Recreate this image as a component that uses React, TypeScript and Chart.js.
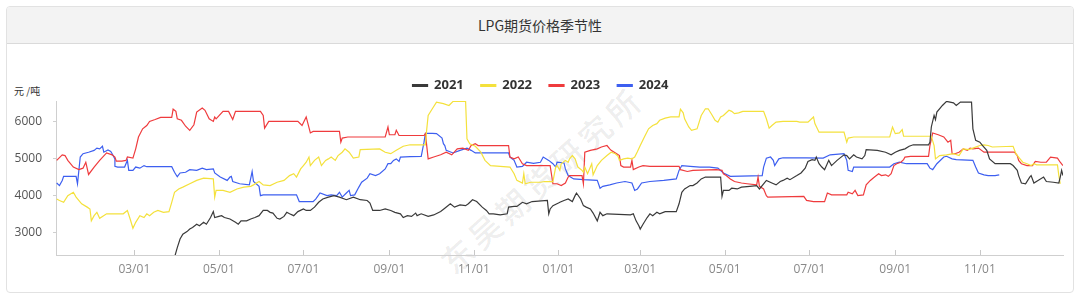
import React, { useEffect, useRef } from "react";
import { Chart, registerables } from "chart.js";

Chart.register(...registerables);

// x = day index counted from 01/01 of the first season year, y = 元/吨
const seriesNames = ["2021", "2022", "2023", "2024"];
const seriesColors = ["#3a3a3a", "#f4e13c", "#ef3b3d", "#3d5ff0"];

const tickDays = [59, 120, 181, 243, 304, 365, 424, 485, 546, 608, 669];
const tickLabels = ["03/01", "05/01", "07/01", "09/01", "11/01", "01/01", "03/01", "05/01", "07/01", "09/01", "11/01"];
const yTicks = [3000, 4000, 5000, 6000];

const pts2021: number[][] = [
  [87, 2200], [90, 2600], [92, 2830], [94, 2960], [97, 3030], [99, 3100], [101, 3140], [104, 3230], [106, 3190], [109, 3280],
  [111, 3230], [114, 3410], [116, 3570], [117, 3410], [120, 3440], [122, 3460], [124, 3410], [128, 3370], [132, 3280], [134, 3230],
  [136, 3320], [140, 3320], [143, 3370], [146, 3410], [149, 3460], [152, 3600], [155, 3600], [157, 3550], [159, 3530], [162, 3390],
  [164, 3370], [167, 3440], [169, 3550], [171, 3510], [174, 3460], [177, 3570], [181, 3640], [183, 3600], [186, 3600], [189, 3690],
  [192, 3820], [195, 3910], [199, 3960], [203, 4000], [207, 3960], [212, 3890], [217, 3960], [222, 3890], [227, 3870], [229, 3800],
  [231, 3600], [236, 3600], [240, 3640], [244, 3600], [247, 3550], [251, 3510], [253, 3410], [256, 3460], [259, 3440], [262, 3530],
  [263, 3460], [266, 3510], [271, 3440], [275, 3480], [280, 3570], [283, 3660], [287, 3780], [290, 3690], [294, 3750], [298, 3730],
  [300, 3780], [303, 3890], [306, 3840], [310, 3690], [313, 3600], [315, 3510], [318, 3510], [323, 3480], [328, 3510], [329, 3690],
  [333, 3710], [335, 3710], [339, 3820], [342, 3780], [346, 3840], [357, 3870], [358, 3510], [359, 3640], [361, 3730], [365, 3800],
  [366, 3820], [369, 3870], [372, 3910], [375, 3840], [377, 4000], [378, 4070], [381, 3910], [383, 3730], [385, 3690], [388, 3640],
  [390, 3530], [393, 3320], [395, 3550], [397, 3460], [400, 3510], [417, 3480], [419, 3510], [421, 3320], [423, 3190], [424, 3100],
  [426, 3230], [429, 3410], [431, 3510], [433, 3460], [436, 3550], [438, 3510], [442, 3570], [450, 3570], [452, 3780], [454, 4090],
  [456, 4180], [460, 4270], [462, 4270], [465, 4340], [468, 4450], [471, 4500], [482, 4500], [483, 3980], [484, 4140], [488, 4140],
  [490, 4200], [494, 4180], [497, 4230], [503, 4250], [508, 4270], [510, 4180], [513, 4320], [515, 4410], [519, 4340], [522, 4290],
  [525, 4380], [527, 4410], [530, 4470], [532, 4430], [537, 4540], [540, 4610], [543, 4740], [545, 4920], [548, 4970], [550, 4950],
  [551, 5040], [553, 4860], [555, 4770], [557, 4700], [560, 4950], [562, 4810], [566, 4950], [568, 5010], [571, 5100], [573, 5080],
  [575, 4990], [578, 5100], [580, 5040], [584, 4990], [586, 5080], [587, 5240], [595, 5220], [601, 5170], [605, 5100], [608, 5170],
  [611, 5220], [615, 5260], [618, 5330], [621, 5370], [632, 5370], [633, 5440], [634, 5850], [636, 6160], [637, 6050], [638, 6250],
  [642, 6430], [645, 6540], [650, 6500], [652, 6430], [655, 6520], [663, 6520], [664, 5800], [666, 5490], [669, 5440], [671, 5350],
  [674, 5220], [676, 4990], [680, 4860], [691, 4860], [693, 4810], [696, 4680], [697, 4540], [699, 4340], [702, 4320], [705, 4500],
  [706, 4540], [708, 4340], [711, 4410], [715, 4500], [717, 4380], [722, 4360], [726, 4340], [727, 4500], [728, 4680], [729, 4540],
];

const pts2022: number[][] = [
  [3, 3910], [5, 3870], [8, 3820], [11, 4000], [15, 4090], [17, 3960], [21, 3780], [25, 3690], [27, 3640], [28, 3320],
  [30, 3460], [32, 3550], [34, 3390], [39, 3510], [51, 3510], [54, 3600], [56, 3370], [58, 3120], [60, 3280], [63, 3460],
  [66, 3410], [68, 3510], [70, 3460], [73, 3550], [76, 3600], [80, 3550], [84, 3570], [86, 3820], [88, 4090], [91, 4180],
  [94, 4230], [99, 4320], [104, 4410], [109, 4470], [116, 4450], [117, 3960], [118, 4140], [123, 4140], [128, 4090], [133, 4180],
  [138, 4230], [143, 4250], [145, 4290], [149, 4380], [152, 4290], [157, 4270], [162, 4360], [167, 4410], [171, 4540], [174, 4590],
  [176, 4500], [179, 4720], [181, 4810], [183, 4900], [185, 5040], [186, 4810], [189, 4950], [192, 5040], [194, 4810], [197, 4950],
  [199, 4990], [201, 5040], [204, 4950], [206, 5080], [209, 5170], [211, 5260], [214, 5170], [217, 5010], [221, 5040], [222, 5240],
  [236, 5260], [240, 5170], [244, 5130], [248, 5220], [253, 5330], [258, 5370], [269, 5370], [270, 5800], [271, 6160], [274, 6340],
  [277, 6520], [282, 6480], [286, 6430], [289, 6540], [298, 6540], [299, 5530], [301, 5400], [305, 5330], [309, 5170], [312, 4950],
  [316, 4810], [323, 4790], [330, 4770], [333, 4590], [335, 4410], [339, 4340], [340, 4590], [341, 4320], [345, 4360], [352, 4360],
  [355, 4380], [361, 4380], [363, 4770], [364, 4810], [366, 4680], [367, 4860], [370, 4950], [372, 4900], [373, 4990], [375, 5080],
  [377, 4990], [379, 4770], [382, 4680], [383, 4630], [384, 4770], [386, 4590], [389, 4860], [390, 4560], [393, 4810], [396, 4950],
  [400, 5080], [403, 5170], [406, 5130], [408, 5060], [409, 4950], [412, 4990], [415, 5010], [418, 4990], [420, 5040], [422, 5190],
  [424, 5350], [427, 5580], [430, 5800], [433, 5890], [436, 5940], [438, 6030], [442, 6090], [446, 6120], [452, 6120], [453, 6330],
  [455, 6230], [456, 6070], [459, 5850], [461, 5760], [465, 5800], [468, 6160], [471, 6340], [473, 6340], [476, 6160], [478, 6030],
  [480, 5980], [482, 6120], [484, 6160], [488, 6300], [490, 6270], [492, 6210], [495, 6230], [498, 6270], [513, 6270], [515, 6070],
  [517, 5820], [519, 5890], [522, 5980], [527, 6000], [537, 6000], [539, 5980], [545, 5980], [549, 6120], [550, 5940], [553, 5710],
  [571, 5710], [573, 5440], [574, 5550], [578, 5580], [604, 5580], [606, 5850], [608, 5670], [611, 5690], [613, 5780], [614, 5600],
  [634, 5600], [636, 5350], [637, 4990], [640, 5080], [645, 5100], [650, 5130], [654, 5080], [657, 5260], [661, 5240], [664, 5280],
  [669, 5350], [672, 5370], [675, 5350], [678, 5310], [693, 5330], [695, 5130], [698, 4990], [700, 4900], [703, 4860], [706, 4810],
  [708, 4860], [710, 4830], [725, 4830], [726, 4540], [727, 4320],
];

const pts2023: number[][] = [
  [3, 4950], [7, 5100], [9, 5080], [11, 4950], [15, 4770], [19, 4700], [22, 4740], [24, 4900], [26, 4570], [30, 4770],
  [34, 4950], [39, 5150], [43, 5100], [45, 5040], [46, 4930], [50, 4930], [53, 4950], [54, 5040], [58, 5010], [60, 5260],
  [62, 5580], [65, 5800], [68, 5890], [70, 6000], [74, 6050], [78, 6110], [86, 6110], [87, 6330], [89, 6270], [90, 6070],
  [93, 6030], [96, 5870], [99, 5760], [102, 5910], [104, 6250], [108, 6360], [110, 6300], [113, 6070], [116, 6000], [117, 6120],
  [118, 6070], [123, 6270], [127, 6270], [130, 6050], [132, 6270], [150, 6270], [152, 6160], [153, 5820], [156, 6000], [177, 6000],
  [180, 5890], [183, 6120], [186, 5690], [188, 5730], [207, 5730], [208, 5440], [209, 5550], [213, 5580], [240, 5580], [242, 5850],
  [243, 5640], [247, 5640], [248, 5760], [250, 5620], [268, 5620], [269, 5670], [271, 4990], [275, 5040], [280, 5100], [284, 5170],
  [288, 5100], [292, 5260], [296, 5280], [300, 5220], [302, 5350], [305, 5400], [307, 5350], [329, 5350], [330, 5040], [333, 4990],
  [336, 5040], [339, 4860], [342, 4810], [359, 4810], [361, 4320], [364, 4320], [367, 4270], [370, 4340], [372, 4500], [373, 4540],
  [382, 4540], [383, 4320], [384, 5170], [388, 5220], [393, 5260], [396, 5310], [400, 5350], [402, 5260], [403, 5220], [407, 5130],
  [409, 5080], [410, 4810], [412, 4770], [417, 4770], [418, 4950], [419, 4700], [423, 4770], [426, 4810], [431, 4790], [452, 4790],
  [453, 4700], [458, 4650], [462, 4680], [479, 4700], [483, 4680], [484, 4590], [486, 4540], [489, 4450], [492, 4380], [497, 4340],
  [501, 4320], [508, 4290], [509, 4500], [510, 4250], [513, 4180], [515, 4000], [516, 3960], [542, 3980], [544, 3870], [549, 3840],
  [557, 3840], [559, 4070], [562, 4020], [573, 4020], [574, 4090], [577, 4050], [579, 4140], [581, 4000], [585, 4020], [587, 4290],
  [590, 4410], [593, 4500], [596, 4590], [598, 4540], [601, 4560], [603, 4520], [605, 4590], [607, 4810], [609, 4860], [612, 4900],
  [614, 4970], [615, 5040], [619, 5060], [632, 5060], [633, 5350], [635, 5690], [639, 5640], [643, 5580], [646, 5440], [648, 5490],
  [649, 5130], [651, 5130], [654, 5170], [657, 5260], [660, 5220], [662, 5280], [664, 5260], [668, 5280], [672, 5170], [694, 5170],
  [696, 5080], [697, 4950], [699, 4860], [703, 4810], [707, 4810], [709, 4920], [713, 4900], [717, 4900], [720, 5040], [725, 5010],
  [727, 4900], [729, 4810],
];

const pts2024: number[][] = [
  [3, 4340], [5, 4270], [7, 4410], [8, 4520], [17, 4520], [18, 4320], [19, 4680], [20, 5040], [22, 5130], [26, 5170],
  [30, 5220], [32, 5280], [34, 5260], [36, 5330], [37, 5170], [40, 5230], [42, 5190], [43, 5130], [45, 4990], [45, 4790],
  [47, 4770], [52, 4770], [54, 4950], [55, 4680], [58, 4680], [60, 4770], [63, 4740], [66, 4810], [68, 4780], [86, 4780],
  [88, 4630], [90, 4510], [92, 4610], [96, 4630], [99, 4700], [104, 4680], [108, 4740], [111, 4700], [116, 4720], [117, 4610],
  [121, 4500], [126, 4410], [128, 4500], [129, 4520], [130, 4380], [135, 4320], [142, 4290], [144, 4650], [145, 4380], [149, 4250],
  [150, 4000], [152, 4020], [176, 4020], [178, 3840], [188, 3840], [190, 3910], [193, 4070], [198, 4000], [201, 4020], [205, 4000],
  [207, 4090], [209, 3960], [212, 4070], [214, 4140], [215, 4000], [218, 4020], [221, 4230], [223, 4360], [227, 4470], [229, 4590],
  [233, 4540], [236, 4590], [240, 4720], [242, 4860], [244, 4860], [246, 4950], [248, 4990], [250, 4920], [251, 5040], [258, 5050],
  [266, 5060], [268, 5440], [269, 5680], [274, 5680], [277, 5670], [281, 5550], [282, 5400], [283, 5350], [284, 5220], [289, 5150],
  [294, 5220], [299, 5280], [302, 5220], [305, 5150], [329, 5150], [330, 5040], [333, 4950], [335, 4770], [339, 4790], [342, 4900],
  [347, 4870], [352, 4900], [354, 5040], [358, 4950], [361, 4860], [363, 4770], [364, 4900], [369, 4880], [370, 4720], [372, 4540],
  [376, 4450], [383, 4430], [393, 4410], [395, 4200], [397, 4250], [402, 4290], [407, 4340], [413, 4380], [418, 4340], [420, 4140],
  [422, 4180], [425, 4340], [431, 4380], [441, 4410], [450, 4450], [452, 4680], [454, 4810], [460, 4790], [467, 4770], [474, 4770],
  [480, 4740], [484, 4610], [489, 4520], [512, 4540], [513, 4770], [515, 5010], [518, 5040], [520, 4950], [521, 4810], [524, 4990],
  [527, 5020], [544, 5020], [556, 5010], [561, 5100], [571, 5130], [573, 4950], [574, 4680], [577, 4650], [578, 4770], [604, 4770],
  [607, 4860], [611, 4900], [616, 4860], [631, 4860], [633, 4740], [635, 4700], [638, 4860], [643, 5040], [645, 5060], [649, 4990],
  [652, 4970], [664, 4950], [666, 4770], [668, 4610], [672, 4560], [675, 4540], [680, 4540], [683, 4560],
];

const allSeries = [pts2021, pts2022, pts2023, pts2024];

const FONT = "'Open Sans', 'Noto Sans CJK SC', sans-serif";
const CJK = "'Noto Sans CJK SC', 'Open Sans', sans-serif";

export default function App() {
  const canvasRef = useRef<HTMLCanvasElement | null>(null);

  useEffect(() => {
    const canvas = canvasRef.current;
    if (!canvas) return;

    const legendFit = {
      id: "legendFit",
      beforeInit(chart: any) {
        const leg = chart.legend;
        if (leg) {
          const orig = leg.fit;
          leg.fit = function () {
            orig.call(this);
            this.height = 39;
          };
        }
      },
      afterLayout(chart: any) {
        // centre the legend row over the same span as the reference
        if (chart.legend) chart.legend.left = 18;
      },
    };

    const innerTicks = {
      id: "innerTicks",
      afterDraw(chart: any) {
        const xs = chart.scales.x;
        const { ctx, chartArea } = chart;
        ctx.save();
        ctx.strokeStyle = "#c8c8c8";
        ctx.lineWidth = 1;
        tickDays.forEach((d) => {
          const px = Math.round(xs.getPixelForValue(d)) + 0.5;
          ctx.beginPath();
          ctx.moveTo(px, chartArea.bottom);
          ctx.lineTo(px, chartArea.bottom - 5);
          ctx.stroke();
        });
        ctx.restore();
      },
    };

    const chart = new Chart(canvas, {
      type: "line",
      data: {
        datasets: allSeries.map((pts, i) => ({
          label: seriesNames[i],
          data: pts.map(([x, y]) => ({ x, y })),
          borderColor: seriesColors[i],
          backgroundColor: seriesColors[i],
          borderWidth: 1.2,
          pointRadius: 0,
          pointHoverRadius: 0,
          tension: 0,
          fill: false,
        })),
      },
      options: {
        animation: false,
        responsive: false,
        maintainAspectRatio: false,
        events: [],
        layout: { padding: { left: 0, right: 17, top: 18, bottom: 0 } },
        plugins: {
          legend: {
            display: true,
            position: "top",
            align: "center",
            labels: {
              boxWidth: 15,
              boxHeight: 2,
              padding: 17,
              color: "#333",
              font: { family: FONT, size: 13, weight: "bold" },
            },
          },
          tooltip: { enabled: false },
        },
        scales: {
          x: {
            type: "linear",
            min: 2.5,
            max: 729,
            afterBuildTicks: (s: any) => {
              s.ticks = tickDays.map((v) => ({ value: v }));
            },
            afterFit: (s: any) => {
              s.height = 39;
            },
            ticks: {
              autoSkip: false,
              maxRotation: 0,
              minRotation: 0,
              padding: 7,
              color: "#888",
              font: { family: FONT, size: 12 },
              callback: (v: any) => {
                const i = tickDays.indexOf(Number(v));
                return i >= 0 ? tickLabels[i] : "";
              },
            },
            grid: { display: true, drawOnChartArea: false, drawTicks: false },
            border: { display: true, color: "#cfcfcf", width: 1 },
          },
          y: {
            type: "linear",
            min: 2400,
            max: 6550,
            afterBuildTicks: (s: any) => {
              s.ticks = yTicks.map((v) => ({ value: v }));
            },
            afterFit: (s: any) => {
              s.width = 56;
            },
            ticks: {
              padding: 11,
              color: "#555",
              font: { family: FONT, size: 12 },
              callback: (v: any) => String(v),
            },
            grid: { display: true, drawOnChartArea: false, drawTicks: true, tickLength: 3, color: "#cfcfcf" },
            border: { display: true, color: "#cfcfcf", width: 1 },
          },
        },
      },
      plugins: [legendFit, innerTicks],
    } as any);

    return () => chart.destroy();
  }, []);

  return (
    <div style={{ position: "absolute", left: 0, top: 0, width: 1080, height: 300, background: "#fff", overflow: "hidden" }}>
      <div
        style={{
          position: "absolute",
          left: 6,
          top: 6,
          width: 1068,
          height: 287,
          boxSizing: "border-box",
          border: "1px solid #e2e2e2",
          borderRadius: 4,
          background: "#fff",
          overflow: "hidden",
        }}
      >
        <div
          style={{
            height: 37,
            boxSizing: "border-box",
            background: "#f3f3f3",
            borderBottom: "1px solid #dadada",
            textAlign: "center",
            lineHeight: "36px",
            fontSize: 14,
            color: "#333",
            fontFamily: CJK,
          }}
        >
          LPG期货价格季节性
        </div>
      </div>
      <div
        style={{
          position: "absolute",
          left: 541,
          top: 179,
          transform: "translate(-50%, -50%) rotate(-42deg)",
          fontSize: 32,
          letterSpacing: 5,
          color: "rgba(0,0,0,0.085)",
          fontFamily: CJK,
          fontWeight: 500,
          whiteSpace: "nowrap",
        }}
      >
        东吴期货研究所
      </div>
      <div
        style={{
          position: "absolute",
          left: 14,
          top: 85,
          fontSize: 10,
          lineHeight: "12px",
          color: "#333",
          fontFamily: CJK,
          whiteSpace: "nowrap",
        }}
      >
        元 /吨
      </div>
      <canvas
        ref={canvasRef}
        width={1080}
        height={250}
        style={{ position: "absolute", left: 0, top: 44, width: 1080, height: 250 }}
      />
    </div>
  );
}
